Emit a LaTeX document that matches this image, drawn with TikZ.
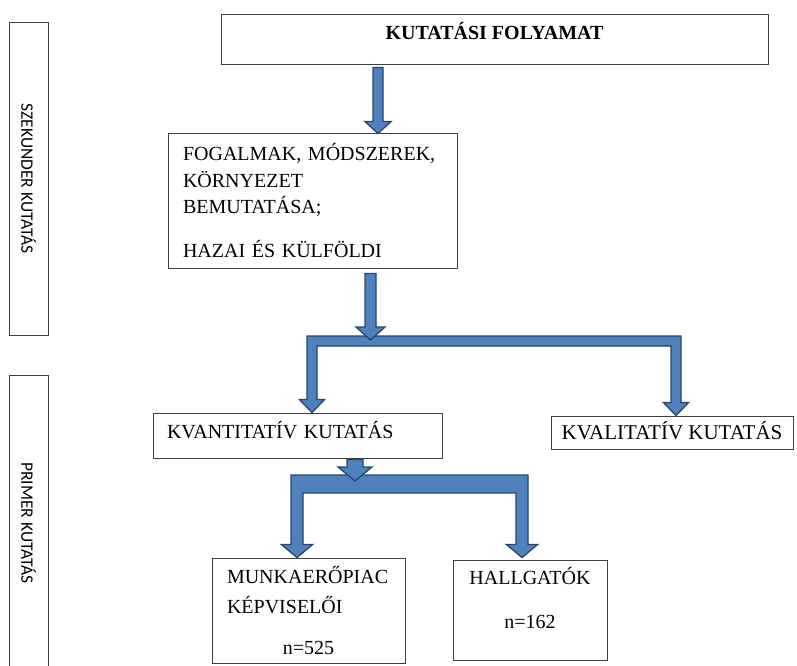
\documentclass[tikz,border=0pt]{standalone}
\usepackage{fontspec}
\setmainfont{Liberation Serif}
\newfontfamily\sidefont{Carlito}
\usetikzlibrary{calc}
\definecolor{arrowfill}{RGB}{79,129,189}
\definecolor{arrowline}{RGB}{40,68,110}
\tikzset{
  box/.style={draw=black!75, line width=0.9pt, rectangle, inner sep=0pt, font=\fontsize{20}{26.5}\selectfont},
  titlebox/.style={box, font=\fontsize{20}{26.5}\selectfont\bfseries},
  side/.style={draw=black!75, line width=0.9pt, rectangle, inner sep=0pt, rotate=-90, font=\sidefont\fontsize{17.5}{20}\selectfont},
  fat/.style={fill=arrowfill, draw=arrowline, line width=1.3pt, line join=miter}
}
% block arrow downwards: start, tip, half shaft, half head, head length
\newcommand{\fatdown}[5]{%
  \filldraw[fat] ($(#1)+(-#3,0)$) -- ($(#2)+(-#3,-#5)$) -- ($(#2)+(-#4,-#5)$) -- (#2)
    -- ($(#2)+(#4,-#5)$) -- ($(#2)+(#3,-#5)$) -- ($(#1)+(#3,0)$) -- cycle;}
% branching block arrow: bar top, bar bottom, left tip, right tip, half shaft, half head, head length
\newcommand{\fatfork}[7]{%
  \filldraw[fat] ($(#3 |- #1)+(-#5,0)$) -- ($(#4 |- #1)+(#5,0)$)
    -- ($(#4)+(#5,-#7)$) -- ($(#4)+(#6,-#7)$) -- (#4) -- ($(#4)+(-#6,-#7)$) -- ($(#4)+(-#5,-#7)$)
    -- ($(#4 |- #2)+(-#5,0)$) -- ($(#3 |- #2)+(#5,0)$)
    -- ($(#3)+(#5,-#7)$) -- ($(#3)+(#6,-#7)$) -- (#3) -- ($(#3)+(-#6,-#7)$) -- ($(#3)+(-#5,-#7)$) -- cycle;}

\begin{document}
\begin{tikzpicture}[x=1pt, y=-1pt]
\useasboundingbox (0,0) rectangle (797,665);

\node[side, minimum width=313pt, minimum height=39pt] (sek) at (28.5,178.5) {SZEKUNDER KUTATÁS};
\node[side, minimum width=296pt, minimum height=39pt] (pri) at (28.5,523) {PRIMER KUTATÁS};

\node[titlebox, minimum width=547pt, minimum height=50pt, text height=14pt, text depth=13pt] (proc) at (494.5,39) {KUTATÁSI FOLYAMAT};
\node[box, minimum width=289pt, minimum height=135pt, text width=259pt, align=left] (fog) at (312.5,200.5)
  {FOGALMAK, MÓDSZEREK,\\ KÖRNYEZET\\ BEMUTATÁSA;\\[17pt] HAZAI ÉS KÜLFÖLDI};
\node[box, minimum width=289pt, minimum height=45pt, text width=261pt, align=left, text height=14pt, text depth=8pt] (quan) at (297.5,435.5) {KVANTITATÍV KUTATÁS};
\node[box, minimum width=242pt, minimum height=33pt, font=\fontsize{21}{26}\selectfont, text height=14pt, text depth=1pt] (qual) at (672,432.5) {KVALITATÍV KUTATÁS};
\node[box, minimum width=193pt, minimum height=105pt, text width=163pt, align=left, font=\fontsize{20}{30}\selectfont] (munk) at (308.5,610.5)
  {MUNKAERŐPIAC\\ KÉPVISELŐI\\[11pt] \makebox[\linewidth]{n=525}};
\node[box, minimum width=154pt, minimum height=100pt, text width=140pt, align=center, text depth=68pt] (hall) at (530,610) {HALLGATÓK\\[17.5pt] n=162};

\coordinate (a1s) at ($(proc.south)+(-116.5,3)$);
\coordinate (a1t) at ($(fog.north)+(65.5,1)$);
\coordinate (b2t) at (0,336); \coordinate (b2b) at (0,346);
\coordinate (a2s) at ($(fog.south)+(58,5)$);
\coordinate (a2t) at ($(a2s |- b2t)+(0,4)$);
\coordinate (f2l) at ($(quan.north)+(14.5,0)$);
\coordinate (f2r) at ($(qual.north)+(4,0)$);
\coordinate (b3t) at (0,475); \coordinate (b3b) at (0,493);
\coordinate (a3s) at ($(quan.south)+(57.5,1)$);
\coordinate (a3t) at ($(a3s |- b3t)+(0,6)$);
\coordinate (f3l) at ($(munk.north)+(-11.5,0)$);
\coordinate (f3r) at ($(hall.north)+(-8,-2)$);

\fatdown{a1s}{a1t}{5}{13}{12}
\fatfork{b2t}{b2b}{f2l}{f2r}{5}{12.5}{13}
\fatdown{a2s}{a2t}{5.5}{14.5}{13}
\fatfork{b3t}{b3b}{f3l}{f3r}{6}{15.5}{13}
\fatdown{a3s}{a3t}{8}{17}{14}
\end{tikzpicture}
\end{document}
